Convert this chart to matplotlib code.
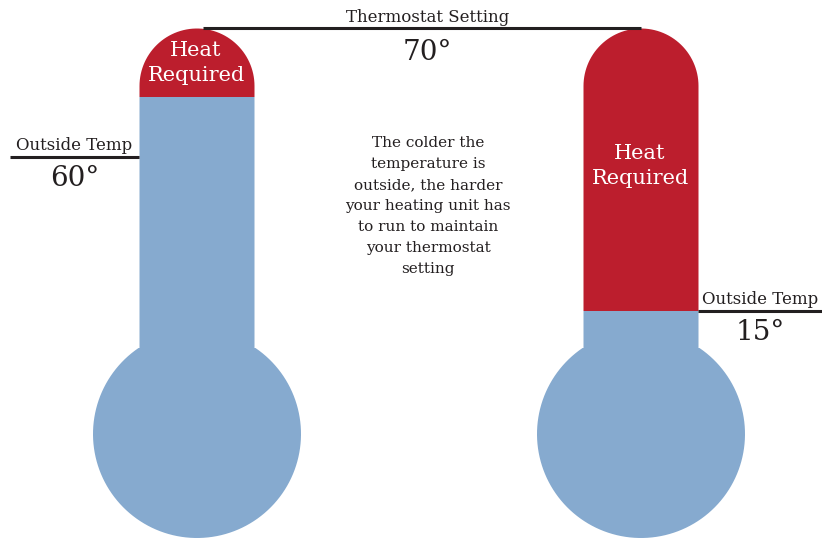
import numpy as np
import matplotlib.pyplot as plt
from matplotlib.path import Path

# data
thermostat = 70
outside_temps = [60, 15]
heat_label = "Heat\nRequired"
note = ("The colder the\ntemperature is\noutside, the harder\nyour heating unit has\n"
        "to run to maintain\nyour thermostat\nsetting")

RED = "#bc1e2d"
BLUE = "#86aacf"
INK = "#231f20"
plt.rcParams['font.family'] = ['DejaVu Serif']

fig = plt.figure(figsize=(8.22, 5.38), dpi=100)
tx = fig.add_axes([0, 0, 1, 1])          # temperature scale for the liquid
tx.set_xlim(0, 822)
tx.set_ylim(-32.73, 80.40)
tx.axis("off")
ax = fig.add_axes([0, 0, 1, 1])          # pixel layout, drawn on top
ax.set_xlim(0, 822)
ax.set_ylim(538, 0)
ax.axis("off")
ax.patch.set_alpha(0)

centers = [197, 641]
half_w, cap_y, neck_y, bulb_y, bulb_r = 57.5, 86, 348, 434, 104


def outline(cx):
    a = np.linspace(np.pi, 0, 60)
    top = np.column_stack([cx + half_w * np.cos(a), cap_y - half_w * np.sin(a)])
    ang = np.arcsin((neck_y - bulb_y) / bulb_r)
    b = np.linspace(ang, np.pi - ang, 120)
    bulb = np.column_stack([cx + bulb_r * np.cos(b), bulb_y + bulb_r * np.sin(b)])
    pts = np.vstack([[cx - half_w, neck_y], top, [cx + half_w, neck_y], bulb, [cx - half_w, neck_y]])
    return Path(pts, closed=True)


for cx, t in zip(centers, outside_temps):
    shape = outline(cx)
    lo, hi = tx.get_ylim()
    blue = tx.bar(cx, t - lo, bottom=lo, width=240, color=BLUE, linewidth=0)
    red = tx.bar(cx, hi - t, bottom=t, width=240, color=RED, linewidth=0)
    for bar in list(blue) + list(red):
        bar.set_clip_path(shape, ax.transData)

# thermostat line
ax.plot([203, 641], [28, 28], color=INK, lw=2.2, solid_capstyle="butt")
ax.text(428, 17, "Thermostat Setting", ha="center", va="center", fontsize=12, color=INK)
ax.text(427, 53, f"{thermostat}°", ha="center", va="center", fontsize=20, color=INK)

# outside temperature labels
ax.plot([10, 139], [157, 157], color=INK, lw=2.2, solid_capstyle="butt")
ax.text(74, 145, "Outside Temp", ha="center", va="center", fontsize=12, color=INK)
ax.text(75, 178, f"{outside_temps[0]}°", ha="center", va="center", fontsize=20, color=INK)
ax.plot([698, 822], [311, 311], color=INK, lw=2.2, solid_capstyle="butt")
ax.text(760, 299, "Outside Temp", ha="center", va="center", fontsize=12, color=INK)
ax.text(760, 333, f"{outside_temps[1]}°", ha="center", va="center", fontsize=20, color=INK)

# heat required labels
ax.text(196, 63, heat_label, ha="center", va="center", fontsize=15, color="white",
        multialignment="center", linespacing=1.35)
ax.text(640, 166, heat_label, ha="center", va="center", fontsize=15, color="white",
        multialignment="center", linespacing=1.35)

ax.text(428, 206, note, ha="center", va="center", fontsize=11, color=INK,
        multialignment="center", linespacing=1.63)

fig.savefig("out.png", dpi=100)
